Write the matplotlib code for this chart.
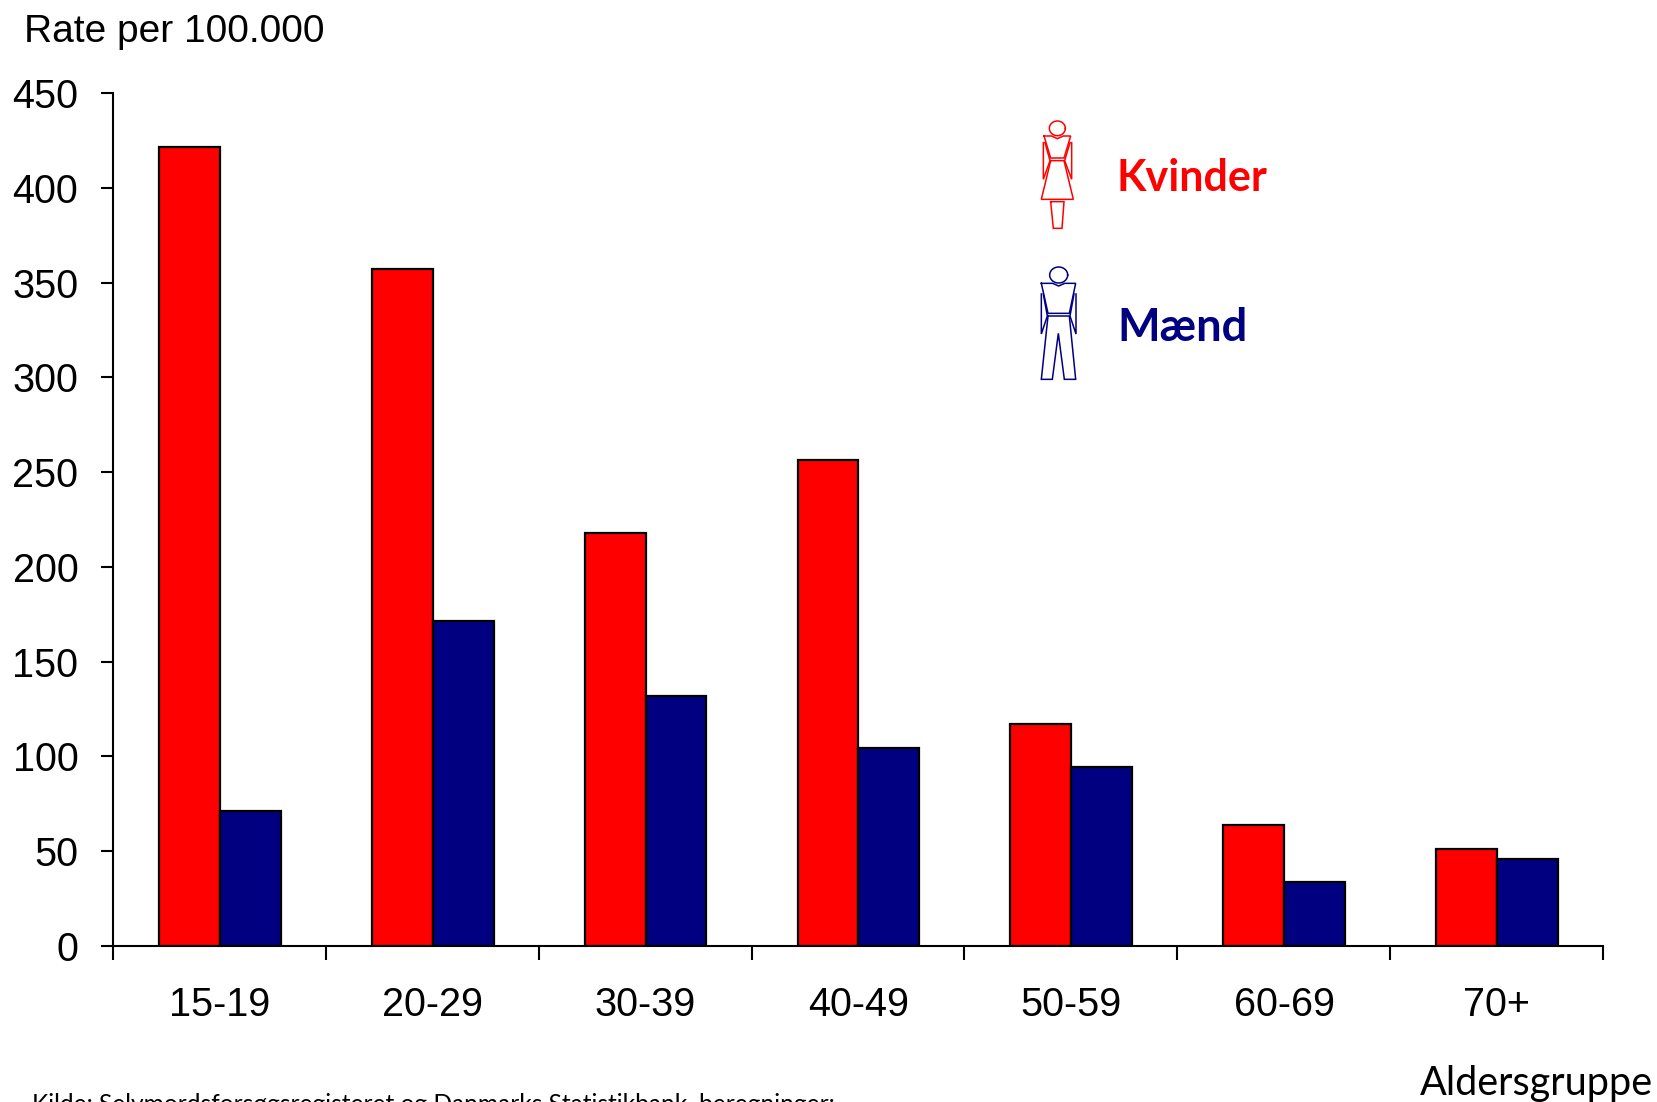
import numpy as np
import matplotlib
matplotlib.use("Agg")
import matplotlib.pyplot as plt

aldersgrupper = ["15-19", "20-29", "30-39", "40-49", "50-59", "60-69", "70+"]
kvinder = [421.5, 357, 218, 256.5, 117, 64, 51]
maend = [71, 171.5, 132, 104.5, 94.5, 34, 46]
y_ticks = [0, 50, 100, 150, 200, 250, 300, 350, 400, 450]

W, H = 1657, 1102
ROED = "#ff0000"
BLAA = "#000080"

fig = plt.figure(figsize=(W / 100, H / 100), dpi=100, facecolor="white")
plt.rcParams["font.family"] = ["Liberation Sans", "DejaVu Sans"]

# akse placeret i pixels fra billedet
ax = fig.add_axes([113 / W, (H - 946) / H, 1490 / W, 853 / H])
x = np.arange(len(aldersgrupper)) + 0.002
bredde = 0.286
ax.bar(x - bredde / 2, kvinder, bredde, color=ROED, edgecolor="black", linewidth=1.6)
ax.bar(x + bredde / 2, maend, bredde, color=BLAA, edgecolor="black", linewidth=1.6)

ax.set_xlim(-0.5, len(aldersgrupper) - 0.5)
ax.set_ylim(0, 450)
ax.set_yticks(y_ticks)
ax.set_xticks(x)
ax.set_xticklabels(aldersgrupper)
ax.set_xticks(np.arange(len(aldersgrupper) + 1) - 0.5, minor=True)
ax.tick_params(axis="y", labelsize=28.5, length=9, width=1.5, pad=16, colors="black")
ax.tick_params(axis="x", which="major", labelsize=28.5, length=0, pad=29)
ax.tick_params(axis="x", which="minor", length=10, width=1.5)
ax.spines["top"].set_visible(False)
ax.spines["right"].set_visible(False)
ax.spines["left"].set_linewidth(1.5)
ax.spines["bottom"].set_linewidth(1.5)

# overlay i billedets pixels til tekst og figurer
ov = fig.add_axes([0, 0, 1, 1], facecolor="none")
ov.set_xlim(0, W)
ov.set_ylim(H, 0)
ov.axis("off")


def tegn(punkter, farve, x0, y0, luk=True):
    xs = [x0 + p[0] / 3 for p in punkter]
    ys = [y0 + p[1] / 3 for p in punkter]
    if luk:
        xs.append(xs[0])
        ys.append(ys[0])
    ov.plot(xs, ys, color=farve, lw=1.1, solid_joinstyle="miter")


def hoved(cx, cy, rx, ry, farve, x0, y0):
    t = np.linspace(0, 2 * np.pi, 60)
    ov.plot(x0 + (cx + rx * np.cos(t)) / 3, y0 + (cy + ry * np.sin(t)) / 3, color=farve, lw=1.1)


# kvinde-ikon
hoved(172, 85, 24, 22, ROED, 1000, 100)
tegn([(132, 108), (155, 108), (172, 116), (190, 108), (212, 108), (192, 174), (152, 174)], ROED, 1000, 100)
tegn([(152, 182), (192, 182), (220, 298), (124, 298)], ROED, 1000, 100)
tegn([(152, 305), (192, 305), (186, 385), (160, 385)], ROED, 1000, 100)
tegn([(130, 128), (130, 238), (150, 182), (135, 128)], ROED, 1000, 100, luk=False)
tegn([(215, 128), (215, 238), (194, 182), (210, 128)], ROED, 1000, 100, luk=False)

# mande-ikon
hoved(176, 525, 27, 24, BLAA, 1000, 100)
tegn([(124, 550), (158, 550), (176, 558), (194, 550), (227, 550), (208, 640), (144, 640)], BLAA, 1000, 100)
tegn([(144, 648), (208, 648), (227, 838), (193, 838), (175, 700), (157, 838), (124, 838)], BLAA, 1000, 100)
tegn([(124, 582), (124, 702), (142, 648), (130, 582)], BLAA, 1000, 100, luk=False)
tegn([(228, 582), (228, 702), (210, 648), (222, 582)], BLAA, 1000, 100, luk=False)

ov.text(24, 32, "Rate per 100.000", fontsize=28, ha="left", va="center")
ov.text(1117, 178, "Kvinder", color=ROED, fontsize=31, fontweight="bold",
        family=["Lato", "DejaVu Sans"], ha="left", va="center")
ov.text(1117, 328, "Mænd", color=BLAA, fontsize=32.5, fontweight="bold",
        family=["Lato", "DejaVu Sans"], ha="left", va="center")
ov.text(1420, 1083, "Aldersgruppe", fontsize=28.5, family=["Lato", "DejaVu Sans"], ha="left", va="center")
# kildeteksten er også skåret af i forlaegget
ov.text(32, 1104, "Kilde: Selvmordsforsøgsregisteret og Danmarks Statistikbank, beregninger:",
        fontsize=17.65, family=["Lato", "DejaVu Sans"], ha="left", va="center", clip_on=False)

fig.savefig("out.png", dpi=100, facecolor="white")
